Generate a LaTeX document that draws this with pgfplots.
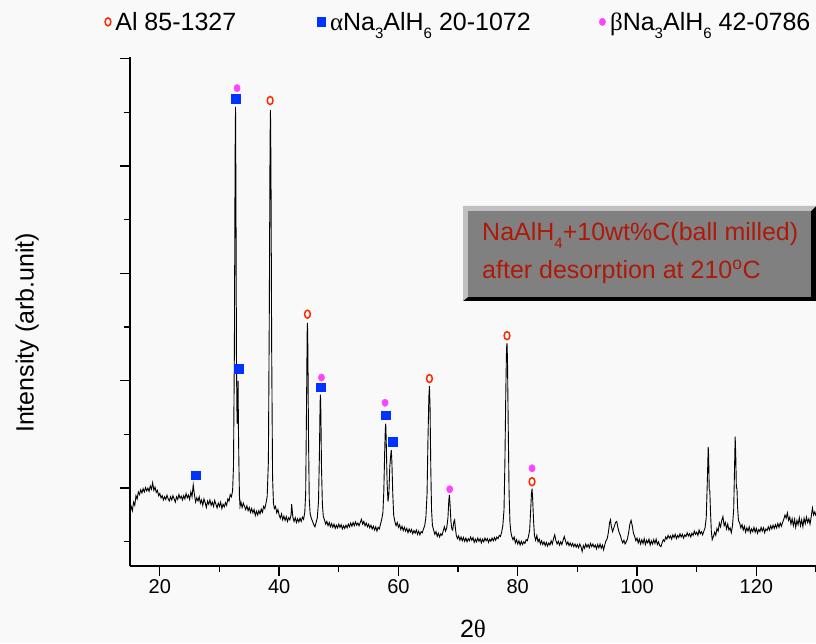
\documentclass[border=0pt]{standalone}
\usepackage{fontspec}
\setmainfont{Liberation Sans}
\newfontfamily\grk{Liberation Serif}
\usepackage{pgfplots}
\pgfplotsset{compat=1.18}
\definecolor{bg}{RGB}{249,249,249}
\definecolor{alred}{RGB}{255,40,0}
\definecolor{alblue}{RGB}{0,51,255}
\definecolor{bmag}{RGB}{255,68,255}
\definecolor{boxgray}{RGB}{128,128,128}
\definecolor{boxlight}{RGB}{192,192,192}
\definecolor{txtred}{RGB}{175,25,10}
\newcommand{\sub}[1]{\raisebox{-0.32em}{\fontsize{15}{15}\selectfont #1}}
\begin{document}
\begin{tikzpicture}
\fill[bg] (-130pt,-77pt) rectangle (686pt,566pt);
\useasboundingbox (-130pt,-77pt) rectangle (686pt,566pt);
\begin{axis}[
  at={(0pt,0pt)}, anchor=south west,
  scale only axis, width=686pt, height=509pt,
  xmin=15, xmax=130, ymin=-0.45, ymax=9.03,
  axis x line*=bottom, axis y line*=left,
  axis line style={line width=1.5pt},
  tick align=outside,
  xtick={20,40,...,120}, minor xtick={30,50,...,130},
  ytick={1,3,5,7,9}, minor ytick={0,2,4,6,8}, yticklabels={},
  major tick length=10pt, minor tick length=5.5pt,
  every tick/.append style={black, line width=1.3pt},
  tick label style={font=\fontsize{20}{22}\selectfont},
  /pgf/number format/assume math mode=true,
  xlabel={2{\grk θ}}, ylabel={Intensity (arb.unit)},
  every axis x label/.style={at={(axis description cs:0.5,-0.124)}, anchor=center, font=\fontsize{25}{27}\selectfont},
  every axis y label/.style={at={(axis description cs:-0.150,0.458)}, anchor=center, rotate=90, font=\fontsize{25}{27}\selectfont},
  clip=false,
  legend columns=3,
  legend image code/.code={\draw[#1] plot coordinates {(0pt,0pt)};},
  legend style={draw=none, fill=none, at={(-0.041,1.069)}, anchor=west,
    font=\fontsize{25}{27}\selectfont, nodes={inner sep=1.5pt},
    /tikz/every odd column/.append style={column sep=3pt},
    /tikz/column 2/.append style={column sep=79pt},
    /tikz/column 4/.append style={column sep=67pt}},
]
\addplot[forget plot, black, line width=0.9pt] coordinates {
(15.0,0.55)(15.2,0.66)(15.4,0.58)(15.6,0.74)(15.8,0.68)(16.0,0.86)(16.2,0.80)(16.4,0.93)(16.6,0.88)(16.8,0.97)
(17.0,0.91)(17.2,0.99)(17.4,0.93)(17.6,1.01)(17.8,0.95)(18.0,1.00)(18.2,0.94)(18.4,1.04)(18.6,0.98)(18.8,1.10)
(19.0,0.96)(19.2,1.02)(19.4,0.92)(19.6,0.96)(19.8,0.86)(20.0,0.90)(20.2,0.82)(20.4,0.86)(20.6,0.78)(20.8,0.84)
(21.0,0.79)(21.2,0.87)(21.4,0.80)(21.6,0.76)(21.8,0.84)(22.0,0.78)(22.2,0.86)(22.4,0.80)(22.6,0.74)(22.8,0.84)
(23.0,0.79)(23.2,0.88)(23.4,0.81)(23.6,0.85)(23.8,0.78)(24.0,0.86)(24.2,0.80)(24.4,0.90)(24.6,0.82)(24.8,0.87)
(25.0,0.79)(25.2,0.93)(25.4,0.84)(25.6,1.06)(25.8,0.88)(26.0,0.74)(26.2,0.82)(26.4,0.76)(26.6,0.84)(26.8,0.72)
(27.0,0.78)(27.2,0.68)(27.4,0.80)(27.6,0.73)(27.8,0.64)(28.0,0.76)(28.2,0.70)(28.4,0.78)(28.6,0.68)(28.8,0.74)
(29.0,0.66)(29.2,0.77)(29.4,0.70)(29.6,0.63)(29.8,0.72)(30.0,0.66)(30.2,0.74)(30.4,0.62)(30.6,0.70)(30.8,0.65)
(31.0,0.73)(31.2,0.68)(31.4,0.80)(31.6,0.76)(31.8,0.88)(32.0,0.84)(32.2,0.95)(32.35,1.4)(32.5,3.6)(32.62,7.2)
(32.69,8.1)(32.76,6.5)(32.85,3.3)(32.95,2.2)(33.05,2.6)(33.12,3.0)(33.18,2.1)(33.25,1.5)(33.35,0.85)(33.45,0.66)
(33.6,0.74)(33.8,0.64)(34.0,0.72)(34.2,0.66)(34.4,0.60)(34.6,0.67)(34.8,0.58)(35.0,0.64)(35.2,0.55)(35.4,0.62)
(35.6,0.54)(35.8,0.60)(36.0,0.49)(36.2,0.57)(36.4,0.50)(36.6,0.58)(36.8,0.52)(37.0,0.61)(37.2,0.55)(37.4,0.66)
(37.6,0.62)(37.8,0.72)(38.0,0.85)(38.2,1.5)(38.35,4.2)(38.48,7.5)(38.55,8.04)(38.63,7.0)(38.75,3.6)(38.9,1.2)
(39.05,0.72)(39.2,0.62)(39.4,0.66)(39.6,0.54)(39.8,0.60)(40.0,0.50)(40.2,0.44)(40.4,0.52)(40.6,0.41)(40.8,0.48)
(41.0,0.40)(41.2,0.47)(41.4,0.38)(41.6,0.45)(41.8,0.41)(42.0,0.50)(42.1,0.70)(42.3,0.46)(42.5,0.38)(42.7,0.45)
(42.9,0.36)(43.1,0.43)(43.3,0.37)(43.5,0.44)(43.7,0.38)(43.9,0.46)(44.1,0.42)(44.3,0.55)(44.45,0.9)(44.6,2.6)
(44.7,3.9)(44.75,4.08)(44.82,3.6)(44.92,2.0)(45.05,0.8)(45.2,0.52)(45.4,0.44)(45.6,0.38)(45.8,0.32)(46.0,0.28)
(46.2,0.36)(46.4,0.45)(46.6,0.75)(46.75,1.6)(46.87,2.6)(46.93,2.74)(47.0,2.4)(47.1,1.4)(47.25,0.7)(47.4,0.48)
(47.6,0.41)(47.8,0.33)(48.0,0.38)(48.2,0.30)(48.4,0.36)(48.6,0.28)(48.8,0.34)(49.0,0.27)(49.2,0.33)(49.4,0.25)
(49.6,0.31)(49.8,0.26)(50.0,0.33)(50.2,0.27)(50.4,0.32)(50.6,0.24)(50.8,0.30)(51.0,0.25)(51.2,0.31)(51.4,0.26)
(51.6,0.33)(51.8,0.28)(52.0,0.35)(52.2,0.29)(52.4,0.36)(52.6,0.30)(52.8,0.37)(53.0,0.31)(53.2,0.35)(53.4,0.30)
(53.6,0.36)(53.8,0.42)(54.0,0.33)(54.2,0.38)(54.4,0.30)(54.6,0.35)(54.8,0.28)(55.0,0.33)(55.2,0.26)(55.4,0.31)
(55.6,0.24)(55.8,0.29)(56.0,0.22)(56.2,0.28)(56.4,0.20)(56.6,0.27)(56.8,0.24)(57.0,0.33)(57.2,0.42)(57.4,0.55)
(57.55,0.95)(57.7,1.7)(57.8,2.1)(57.87,2.2)(57.95,1.9)(58.1,1.1)(58.25,0.75)(58.4,0.9)(58.55,1.4)(58.7,1.6)
(58.8,1.71)(58.9,1.5)(59.05,0.9)(59.2,0.5)(59.4,0.38)(59.6,0.30)(59.8,0.36)(60.0,0.27)(60.2,0.32)(60.4,0.23)
(60.6,0.29)(60.8,0.21)(61.0,0.27)(61.2,0.20)(61.4,0.25)(61.6,0.17)(61.8,0.24)(62.0,0.18)(62.2,0.23)(62.4,0.15)
(62.6,0.21)(62.8,0.16)(63.0,0.22)(63.2,0.14)(63.4,0.20)(63.6,0.13)(63.8,0.19)(64.0,0.17)(64.2,0.24)(64.4,0.30)
(64.6,0.45)(64.8,0.9)(64.95,1.9)(65.1,2.7)(65.2,2.9)(65.3,2.5)(65.42,1.4)(65.55,0.6)(65.7,0.3)(65.9,0.22)
(66.1,0.14)(66.3,0.19)(66.5,0.10)(66.7,0.16)(66.9,0.09)(67.1,0.15)(67.3,0.12)(67.5,0.20)(67.7,0.28)(67.9,0.20)
(68.1,0.26)(68.3,0.45)(68.45,0.78)(68.55,0.875)(68.65,0.7)(68.8,0.38)(68.95,0.24)(69.1,0.22)(69.3,0.38)(69.42,0.41)
(69.55,0.25)(69.7,0.12)(69.9,0.06)(70.1,0.11)(70.3,0.03)(70.5,0.09)(70.7,0.02)(70.9,0.08)(71.1,0.01)(71.3,0.07)
(71.5,0.00)(71.7,0.06)(71.9,0.02)(72.1,0.09)(72.3,0.03)(72.5,0.08)(72.7,-0.01)(72.9,0.05)(73.1,0.00)(73.3,0.07)
(73.5,0.01)(73.7,0.06)(73.9,-0.02)(74.1,0.05)(74.3,0.00)(74.5,0.07)(74.7,0.02)(74.9,0.06)(75.1,-0.01)(75.3,0.05)
(75.5,0.01)(75.7,0.07)(75.9,0.02)(76.1,0.08)(76.3,0.03)(76.5,0.09)(76.7,0.06)(76.9,0.12)(77.1,0.10)(77.3,0.18)
(77.5,0.30)(77.7,0.6)(77.85,1.5)(78.0,2.8)(78.12,3.6)(78.2,3.7)(78.28,3.4)(78.4,2.2)(78.55,0.9)(78.7,0.35)
(78.85,0.18)(79.0,0.10)(79.2,0.04)(79.4,0.09)(79.6,-0.02)(79.8,0.04)(80.0,-0.04)(80.2,0.02)(80.4,-0.06)(80.6,0.01)
(80.8,-0.05)(81.0,0.00)(81.2,-0.03)(81.4,0.04)(81.6,0.02)(81.8,0.10)(82.0,0.22)(82.15,0.55)(82.3,0.90)(82.4,0.99)
(82.5,0.80)(82.65,0.40)(82.8,0.12)(83.0,0.03)(83.2,0.12)(83.4,0.00)(83.6,0.05)(83.8,-0.04)(84.0,0.02)(84.2,-0.05)
(84.4,0.00)(84.6,-0.07)(84.8,-0.01)(85.0,-0.08)(85.2,-0.02)(85.4,-0.06)(85.6,0.02)(85.8,-0.04)(86.0,0.06)(86.2,0.13)
(86.4,0.02)(86.6,-0.04)(86.8,0.01)(87.0,-0.06)(87.2,0.00)(87.4,-0.05)(87.6,0.03)(87.8,0.10)(88.0,0.02)(88.2,-0.05)
(88.4,0.00)(88.6,-0.07)(88.8,-0.02)(89.0,-0.08)(89.2,-0.03)(89.4,-0.09)(89.6,-0.04)(89.8,-0.10)(90.0,-0.05)(90.2,-0.11)
(90.4,-0.04)(90.6,-0.09)(90.8,-0.18)(91.0,-0.07)(91.2,-0.12)(91.4,-0.04)(91.6,-0.10)(91.8,-0.05)(92.0,-0.11)(92.2,-0.03)
(92.4,-0.09)(92.6,-0.04)(92.8,-0.10)(93.0,-0.06)(93.2,-0.13)(93.4,-0.05)(93.6,-0.11)(93.8,-0.04)(94.0,-0.12)(94.2,-0.06)
(94.4,-0.15)(94.6,-0.05)(94.8,0.02)(95.0,0.06)(95.2,0.18)(95.4,0.36)(95.55,0.41)(95.7,0.28)(95.9,0.19)(96.1,0.26)
(96.4,0.36)(96.6,0.38)(96.8,0.26)(97.0,0.17)(97.2,0.12)(97.4,0.04)(97.6,-0.02)(97.8,0.03)(98.0,-0.04)(98.2,0.00)
(98.4,0.06)(98.6,0.18)(98.8,0.33)(99.0,0.40)(99.2,0.30)(99.4,0.16)(99.6,0.10)(99.8,0.02)(100.0,0.07)(100.2,-0.02)
(100.4,0.05)(100.6,-0.04)(100.8,0.04)(101.0,-0.03)(101.2,0.06)(101.4,-0.05)(101.6,0.03)(101.8,-0.02)(102.0,0.05)(102.2,-0.06)
(102.4,0.02)(102.6,-0.04)(102.8,0.04)(103.0,-0.03)(103.2,0.05)(103.4,-0.05)(103.6,0.00)(103.8,-0.07)(104.0,-0.09)(104.2,-0.02)
(104.4,0.04)(104.6,0.01)(104.8,0.09)(105.0,0.05)(105.2,0.12)(105.4,0.07)(105.6,0.11)(105.8,0.05)(106.0,0.13)(106.2,0.08)
(106.4,0.14)(106.6,0.06)(106.8,0.12)(107.0,0.08)(107.2,0.15)(107.4,0.09)(107.6,0.14)(107.8,0.07)(108.0,0.13)(108.2,0.10)
(108.4,0.17)(108.6,0.11)(108.8,0.15)(109.0,0.09)(109.2,0.16)(109.4,0.12)(109.6,0.20)(109.8,0.14)(110.0,0.18)(110.2,0.12)
(110.4,0.22)(110.6,0.15)(110.8,0.19)(111.0,0.13)(111.2,0.20)(111.4,0.26)(111.6,0.45)(111.8,1.2)(111.93,1.77)(112.0,1.6)
(112.1,0.97)(112.2,0.95)(112.3,0.60)(112.45,0.20)(112.6,0.04)(112.8,0.10)(113.0,0.18)(113.2,0.12)(113.4,0.25)(113.6,0.20)
(113.8,0.35)(114.0,0.28)(114.2,0.40)(114.4,0.47)(114.6,0.30)(114.8,0.36)(115.0,0.24)(115.2,0.33)(115.4,0.22)(115.6,0.26)
(115.8,0.17)(116.0,0.30)(116.2,0.60)(116.35,1.4)(116.45,1.96)(116.55,1.6)(116.65,1.0)(116.75,1.0)(116.85,0.65)(117.0,0.40)
(117.2,0.35)(117.4,0.26)(117.6,0.32)(117.8,0.22)(118.0,0.29)(118.2,0.18)(118.4,0.26)(118.6,0.20)(118.8,0.28)(119.0,0.17)
(119.2,0.24)(119.4,0.19)(119.6,0.27)(119.8,0.18)(120.0,0.25)(120.2,0.16)(120.4,0.23)(120.6,0.19)(120.8,0.27)(121.0,0.20)
(121.2,0.26)(121.4,0.17)(121.6,0.24)(121.8,0.21)(122.0,0.28)(122.2,0.22)(122.4,0.30)(122.6,0.24)(122.8,0.31)(123.0,0.25)
(123.2,0.32)(123.4,0.26)(123.6,0.34)(123.8,0.27)(124.0,0.35)(124.2,0.29)(124.4,0.36)(124.6,0.42)(124.8,0.50)(125.0,0.44)
(125.2,0.54)(125.4,0.40)(125.6,0.46)(125.8,0.33)(126.0,0.43)(126.2,0.30)(126.4,0.42)(126.6,0.27)(126.8,0.40)(127.0,0.32)
(127.2,0.45)(127.4,0.30)(127.6,0.41)(127.8,0.28)(128.0,0.44)(128.2,0.34)(128.4,0.46)(128.6,0.36)(128.8,0.43)(129.0,0.33)
(129.2,0.47)(129.4,0.63)(129.6,0.50)(129.8,0.56)(130.0,0.48)
};
\addplot[only marks, mark=o, mark size=4.0pt, mark options={draw=alred, line width=1.5pt, xscale=0.72}]
  coordinates {(38.49,8.22)(44.75,4.24)(65.2,3.04)(78.2,3.84)(82.4,1.12)};
\addlegendentry{Al 85-1327}
\addplot[only marks, mark=square*, mark size=4.4pt, mark options={draw=alblue, fill=alblue}]
  coordinates {(25.98,1.24)(32.74,8.26)(33.24,3.23)(46.98,2.88)(57.93,2.36)(59.05,1.87)};
\addlegendentry{{\grk α}Na\sub{3}AlH\sub{6} 20-1072}
\addplot[only marks, mark=*, mark size=3.7pt, mark options={draw=bmag, fill=bmag, xscale=0.85}]
  coordinates {(32.95,8.45)(47.1,3.06)(57.76,2.59)(68.6,0.98)(82.4,1.37)};
\addlegendentry{{\grk β}Na\sub{3}AlH\sub{6} 42-0786}
\end{axis}
% annotation box
\fill[black] (333pt,265pt) rectangle (686pt,360pt);
\fill[boxlight] (333pt,360pt) -- (686pt,360pt) -- (681pt,355pt) -- (338pt,355pt) -- (338pt,269pt) -- (333pt,265pt) -- cycle;
\fill[boxgray] (338pt,269pt) rectangle (681pt,355pt);
\node[anchor=base west, inner sep=0pt, text=txtred, font=\fontsize{25}{27}\selectfont] at (352pt,325pt) {NaAlH\sub{4}+10wt\%C(ball milled)};
\node[anchor=base west, inner sep=0pt, text=txtred, font=\fontsize{25}{27}\selectfont] at (352pt,287pt) {after desorption at 210\textsuperscript{o}C};
\end{tikzpicture}
\end{document}
